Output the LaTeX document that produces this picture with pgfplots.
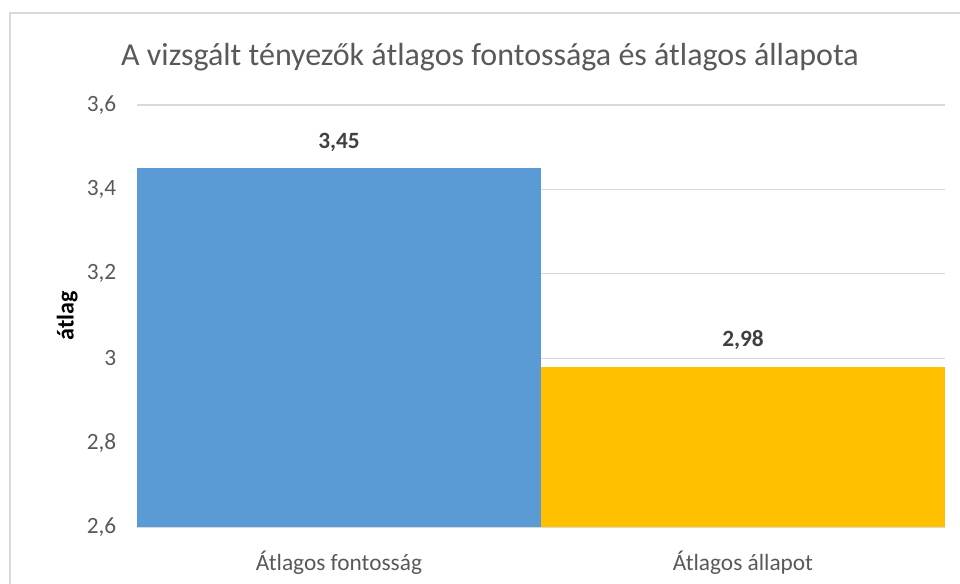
\documentclass[border=0pt]{standalone}
\usepackage{fontspec}
\setmainfont{Carlito}
\usepackage{pgfplots}
\pgfplotsset{compat=1.18}
\definecolor{gridgray}{HTML}{D9D9D9}
\definecolor{ticktext}{HTML}{595959}
\definecolor{labeltext}{HTML}{404040}
\definecolor{barblue}{HTML}{5B9BD5}
\definecolor{baryellow}{HTML}{FFC000}

\begin{document}
\begin{tikzpicture}[x=0.75pt,y=0.75pt]
  \useasboundingbox (0,0) rectangle (960,583);
  % chart frame (cropped on the right and bottom)
  \draw[gridgray,line width=1.5pt] (10,-5) -- (10,570) -- (965,570);
  \node[ticktext,font=\fontsize{24}{28}\selectfont] at (490,526) {A vizsgált tényezők átlagos fontossága és átlagos állapota};

  \begin{axis}[
    at={(102.75pt,42pt)}, anchor=south west,
    scale only axis,
    width=606pt, height=316.5pt,
    xmin=-0.5, xmax=1.5,
    ymin=2.6, ymax=3.6,
    ytick={2.6,2.8,3,3.2,3.4,3.6},
    xtick={0,1},
    xticklabels={Átlagos fontosság, Átlagos állapot},
    axis line style={draw=none},
    tick style={draw=none},
    ymajorgrids,
    grid style={gridgray,line width=0.9pt},
    /pgf/number format/assume math mode=true,
    /pgf/number format/use comma,
    ticklabel style={ticktext,font=\fontsize{17.5}{21}\selectfont},
    yticklabel style={xshift=-12pt},
    xticklabel style={yshift=-10pt},
    ylabel={\textbf{átlag}},
    ylabel style={black,font=\fontsize{18}{21}\selectfont},
    ybar, bar width=1, bar shift=0,
    nodes near coords,
    nodes near coords style={labeltext,font=\bfseries\fontsize{17.5}{21}\selectfont,
      /pgf/number format/fixed,/pgf/number format/fixed zerofill,/pgf/number format/precision=2,
      /pgf/number format/use comma,yshift=9pt},
    clip=false,
  ]
    \addplot[fill=barblue,draw=none] coordinates {(0,3.45)};
    \addplot[fill=baryellow,draw=none] coordinates {(1,2.98)};
  \end{axis}
\end{tikzpicture}
\end{document}
